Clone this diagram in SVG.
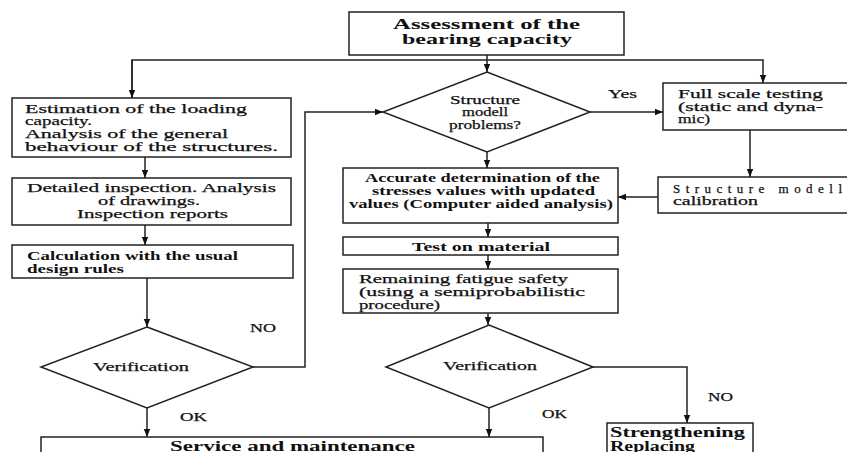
<svg xmlns="http://www.w3.org/2000/svg" width="847" height="452" viewBox="0 0 847 452">
<style>
.box{fill:#fff;stroke:#222;stroke-width:1.5}
.dia{fill:#fff;stroke:#222;stroke-width:1.5}
.ln{fill:none;stroke:#222;stroke-width:1.5}
text{font-family:"Liberation Serif","Times New Roman",serif;font-size:13px;fill:#111;stroke:#111;stroke-width:0.25}
.b{font-weight:bold;stroke-width:0}
.t{font-weight:bold;font-size:14px;stroke-width:0}
</style>
<defs>
<marker id="ah" markerWidth="8" markerHeight="8" refX="8" refY="4" orient="auto" markerUnits="userSpaceOnUse">
<path d="M0,0.8 L8,4 L0,7.2 Z" fill="#111"/>
</marker>
</defs>
<rect width="847" height="452" fill="#fff"/>
<g id="connectors">
<path class="ln" d="M487,55 V72" marker-end="url(#ah)"/>
<path class="ln" d="M132,98 V60 H763 V83" marker-end="url(#ah)"/>
<path class="ln" d="M132,60 V98" marker-end="url(#ah)"/>
<path class="ln" d="M145,157 V178" marker-end="url(#ah)"/>
<path class="ln" d="M145,225 V245" marker-end="url(#ah)"/>
<path class="ln" d="M147,278 V327" marker-end="url(#ah)"/>
<path class="ln" d="M147,408 V437" marker-end="url(#ah)"/>
<path class="ln" d="M253,367 H305 V112 H383" marker-end="url(#ah)"/>
<path class="ln" d="M590,112 H663" marker-end="url(#ah)"/>
<path class="ln" d="M487,152 V168" marker-end="url(#ah)"/>
<path class="ln" d="M750,130 V177" marker-end="url(#ah)"/>
<path class="ln" d="M658,197 H618" marker-end="url(#ah)"/>
<path class="ln" d="M488,223 V237" marker-end="url(#ah)"/>
<path class="ln" d="M488,255 V269" marker-end="url(#ah)"/>
<path class="ln" d="M488,313 V325" marker-end="url(#ah)"/>
<path class="ln" d="M489,408 V437" marker-end="url(#ah)"/>
<path class="ln" d="M593,367 H687 V423" marker-end="url(#ah)"/>
<text x="608" y="98" textLength="29" lengthAdjust="spacingAndGlyphs">Yes</text>
<text x="250" y="332" textLength="26" lengthAdjust="spacingAndGlyphs">NO</text>
<text x="180" y="421" textLength="27" lengthAdjust="spacingAndGlyphs">OK</text>
<text x="542" y="418" textLength="25" lengthAdjust="spacingAndGlyphs">OK</text>
<text x="708" y="401" textLength="25" lengthAdjust="spacingAndGlyphs">NO</text>
</g>
<g id="assessment">
<rect class="box" x="349" y="12" width="275" height="43"/>
<text class="t" x="393" y="29" textLength="187" lengthAdjust="spacingAndGlyphs">Assessment of the</text>
<text class="t" x="402" y="44" textLength="170" lengthAdjust="spacingAndGlyphs">bearing capacity</text>
</g>
<g id="estimation">
<rect class="box" x="12" y="98" width="279" height="59"/>
<text x="25" y="113" textLength="222" lengthAdjust="spacingAndGlyphs">Estimation of the loading</text>
<text x="25" y="125" textLength="67" lengthAdjust="spacingAndGlyphs">capacity.</text>
<text x="25" y="138" textLength="203" lengthAdjust="spacingAndGlyphs">Analysis of the general</text>
<text x="25" y="151" textLength="253" lengthAdjust="spacingAndGlyphs">behaviour of the structures.</text>
</g>
<g id="inspection">
<rect class="box" x="12" y="178" width="279" height="47"/>
<text x="27" y="192" textLength="249" lengthAdjust="spacingAndGlyphs">Detailed inspection. Analysis</text>
<text x="98" y="205" textLength="102" lengthAdjust="spacingAndGlyphs">of drawings.</text>
<text x="77" y="218" textLength="151" lengthAdjust="spacingAndGlyphs">Inspection reports</text>
</g>
<g id="calculation">
<rect class="box" x="12" y="245" width="281" height="33"/>
<text class="b" x="27" y="260" textLength="211" lengthAdjust="spacingAndGlyphs">Calculation with the usual</text>
<text class="b" x="27" y="273" textLength="97" lengthAdjust="spacingAndGlyphs">design rules</text>
</g>
<g id="verification-left">
<polygon class="dia" points="147,327 253,367 147,408 41,367"/>
<text x="93" y="371" textLength="96" lengthAdjust="spacingAndGlyphs">Verification</text>
</g>
<g id="structure-problems">
<polygon class="dia" points="487,72 590,112 487,152 383,112"/>
<text x="450" y="104" textLength="70" lengthAdjust="spacingAndGlyphs">Structure</text>
<text x="462" y="116" textLength="46" lengthAdjust="spacingAndGlyphs">modell</text>
<text x="449" y="129" textLength="72" lengthAdjust="spacingAndGlyphs">problems?</text>
</g>
<g id="full-scale">
<rect class="box" x="663" y="83" width="200" height="47"/>
<text x="678" y="98" textLength="145" lengthAdjust="spacingAndGlyphs">Full scale testing</text>
<text x="678" y="111" textLength="145" lengthAdjust="spacingAndGlyphs">(static and dyna-</text>
<text x="678" y="123" textLength="32" lengthAdjust="spacingAndGlyphs">mic)</text>
</g>
<g id="calibration">
<rect class="box" x="658" y="177" width="205" height="36"/>
<text x="673" y="193" textLength="169" lengthAdjust="spacing">Structure modell</text>
<text x="673" y="205" textLength="85" lengthAdjust="spacingAndGlyphs">calibration</text>
</g>
<g id="accurate">
<rect class="box" x="343" y="168" width="275" height="55"/>
<text class="b" x="365" y="182" textLength="235" lengthAdjust="spacingAndGlyphs">Accurate determination of the</text>
<text class="b" x="372" y="195" textLength="223" lengthAdjust="spacingAndGlyphs">stresses values with updated</text>
<text class="b" x="349" y="208" textLength="264" lengthAdjust="spacingAndGlyphs">values (Computer aided analysis)</text>
</g>
<g id="test-material">
<rect class="box" x="343" y="237" width="275" height="18"/>
<text class="b" x="412" y="251" textLength="138" lengthAdjust="spacingAndGlyphs">Test on material</text>
</g>
<g id="remaining">
<rect class="box" x="343" y="269" width="275" height="44"/>
<text x="359" y="283" textLength="209" lengthAdjust="spacingAndGlyphs">Remaining fatigue safety</text>
<text x="359" y="296" textLength="226" lengthAdjust="spacingAndGlyphs">(using a semiprobabilistic</text>
<text x="359" y="309" textLength="81" lengthAdjust="spacingAndGlyphs">procedure)</text>
</g>
<g id="verification-right">
<polygon class="dia" points="489,325 593,367 489,408 386,367"/>
<text x="443" y="370" textLength="94" lengthAdjust="spacingAndGlyphs">Verification</text>
</g>
<g id="service">
<rect class="box" x="41" y="437" width="502" height="30"/>
<text class="t" x="170" y="451" textLength="245" lengthAdjust="spacingAndGlyphs">Service and maintenance</text>
</g>
<g id="strengthening">
<rect class="box" x="607" y="423" width="146" height="40"/>
<text class="t" x="610" y="437" textLength="135" lengthAdjust="spacingAndGlyphs">Strengthening</text>
<text class="t" x="610" y="451" textLength="85" lengthAdjust="spacingAndGlyphs">Replacing</text>
</g>
</svg>
